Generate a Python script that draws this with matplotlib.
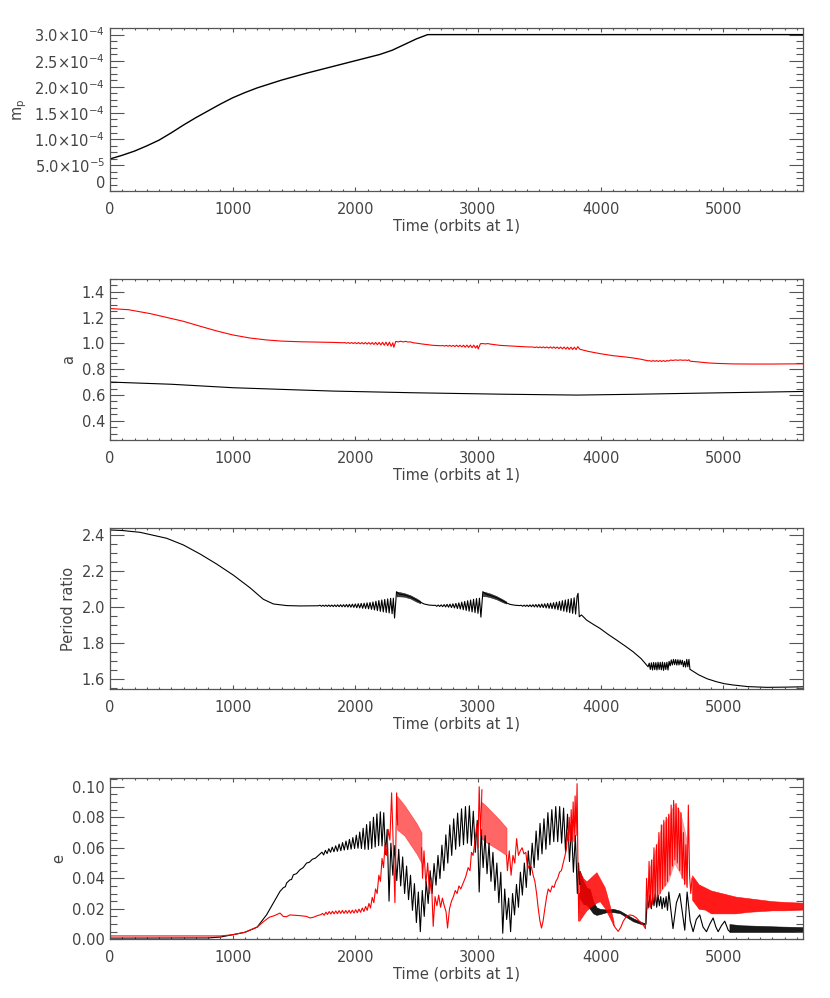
import numpy as np
import matplotlib.pyplot as plt
from matplotlib.ticker import MultipleLocator, FixedLocator, FixedFormatter

# ---------------- data ----------------
mp_t = [0, 100, 200, 300, 400, 500, 600, 700, 800, 900, 1000, 1100, 1200, 1400, 1600, 1800, 2000,
        2200, 2300, 2400, 2500, 2590, 5650]
mp_v = [6.2e-5, 6.9e-5, 7.7e-5, 8.7e-5, 9.8e-5, 1.12e-4, 1.27e-4, 1.41e-4, 1.54e-4, 1.67e-4, 1.79e-4,
        1.89e-4, 1.98e-4, 2.13e-4, 2.26e-4, 2.38e-4, 2.50e-4, 2.62e-4, 2.70e-4, 2.81e-4, 2.92e-4,
        3.0e-4, 3.0e-4]
mp_ticks = [0, 5e-5, 1e-4, 1.5e-4, 2e-4, 2.5e-4, 3e-4]
mp_labels = ['0', r'5.0$\times$10$^{-5}$', r'1.0$\times$10$^{-4}$', r'1.5$\times$10$^{-4}$',
             r'2.0$\times$10$^{-4}$', r'2.5$\times$10$^{-4}$', r'3.0$\times$10$^{-4}$']

a_in = [(0, .700), (500, .683), (1005, .656), (1500, .640), (1820, .630), (2472, .617), (3179, .606),
        (3810, .599), (4265, .605), (4810, .614), (5650, .627)]
a_out = [(0, 1.271), (150, 1.262), (326, 1.232), (450, 1.205), (598, 1.172), (730, 1.135), (870, 1.097),
         (1000, 1.066), (1141, 1.042), (1277, 1.027), (1400, 1.018), (1549, 1.013), (1700, 1.010),
         (1820, 1.008), (1900, 1.005), (1914, 1.007), (1928, 1.001), (1942, 1.007), (1956, 1.000),
         (1970, 1.007), (1984, .999), (1998, 1.007), (2012, .998), (2026, 1.007), (2040, .997),
         (2054, 1.007), (2068, .996), (2082, 1.007), (2096, .995), (2110, 1.007), (2124, .994),
         (2138, 1.007), (2152, .992), (2166, 1.008), (2180, .990), (2194, 1.008), (2208, .988),
         (2222, 1.009), (2236, .986), (2250, 1.010), (2264, .983), (2278, 1.010), (2292, .978),
         (2306, 1.005), (2314, .970), (2330, 1.016), (2350, 1.012), (2370, 1.017), (2390, 1.012),
         (2410, 1.016), (2430, 1.011), (2450, 1.012), (2472, 1.005), (2500, 1.002), (2550, .995),
         (2635, .985), (2700, .982), (2714, .984), (2728, .979), (2742, .985), (2756, .978),
         (2770, .985), (2784, .977), (2798, .985), (2812, .976), (2826, .986), (2840, .975),
         (2854, .986), (2868, .973), (2882, .986), (2896, .971), (2910, .987), (2924, .969),
         (2938, .987), (2952, .967), (2966, .987), (2980, .964), (2994, .984), (3002, .957),
         (3020, .998), (3040, .999), (3060, .996), (3080, .999), (3100, .995), (3140, .990),
         (3179, .985), (3250, .981), (3330, .977), (3400, .973), (3450, .972), (3464, .968),
         (3478, .973), (3492, .967), (3506, .973), (3520, .966), (3534, .973), (3548, .965),
         (3562, .973), (3576, .964), (3590, .973), (3604, .963), (3618, .973), (3632, .962),
         (3646, .972), (3660, .960), (3674, .972), (3688, .958), (3702, .972), (3716, .956),
         (3730, .971), (3744, .954), (3758, .971), (3772, .953), (3786, .971), (3800, .952),
         (3814, .975), (3830, .955), (3900, .938), (3994, .921), (4100, .905), (4200, .895),
         (4265, .887), (4330, .877), (4387, .865), (4400, .866), (4414, .861), (4428, .867),
         (4442, .861), (4456, .867), (4470, .860), (4484, .867), (4498, .860), (4512, .867),
         (4526, .860), (4540, .867), (4556, .863), (4570, .871), (4590, .868), (4610, .872),
         (4630, .869), (4650, .872), (4670, .869), (4690, .871), (4710, .868), (4720, .873),
         (4730, .862), (4800, .856), (4870, .849), (4945, .845), (5080, .841), (5216, .840),
         (5400, .840), (5650, .842)]

pr_line = [(0, 2.428), (100, 2.425), (245, 2.415), (462, 2.382), (598, 2.345), (734, 2.295),
           (870, 2.239), (1005, 2.178), (1141, 2.108), (1250, 2.044), (1332, 2.018), (1440, 2.009),
           (1550, 2.007), (1700, 2.008),
           (1712, 2.011), (1724, 2.005), (1736, 2.011), (1748, 2.005), (1760, 2.0115), (1772, 2.0045),
           (1784, 2.012), (1796, 2.004), (1808, 2.012), (1820, 2.0036), (1832, 2.0125), (1844, 2.0033),
           (1856, 2.013), (1868, 2.003), (1880, 2.0136), (1892, 2.0024), (1904, 2.014), (1916, 2.002),
           (1928, 2.015), (1940, 2.001), (1952, 2.016), (1964, 2.000), (1976, 2.017), (1988, 1.999),
           (2000, 2.018), (2012, 1.997), (2024, 2.0195), (2036, 1.996), (2048, 2.021), (2060, 1.994),
           (2072, 2.022), (2084, 1.993), (2096, 2.024), (2108, 1.991), (2120, 2.026), (2132, 1.988),
           (2144, 2.029), (2156, 1.985), (2168, 2.033), (2180, 1.981), (2192, 2.037), (2204, 1.977),
           (2216, 2.040), (2228, 1.974), (2240, 2.043), (2252, 1.971), (2264, 2.046), (2276, 1.968),
           (2288, 2.049), (2300, 1.964), (2310, 2.050), (2320, 1.940), (2336, 2.086),
           (2360, 2.072), (2400, 2.068), (2450, 2.057), (2500, 2.039), (2530, 2.028), (2560, 2.018),
           (2600, 2.012), (2640, 2.010),
           (2652, 2.011), (2664, 2.005), (2676, 2.012), (2688, 2.004), (2700, 2.013), (2712, 2.003),
           (2724, 2.0145), (2736, 2.0015), (2748, 2.016), (2760, 2.000), (2772, 2.017), (2784, 1.998),
           (2796, 2.019), (2808, 1.996), (2820, 2.021), (2832, 1.993), (2844, 2.024), (2856, 1.990),
           (2868, 2.028), (2880, 1.986), (2892, 2.032), (2904, 1.982), (2916, 2.036), (2928, 1.978),
           (2940, 2.040), (2952, 1.974), (2964, 2.044), (2976, 1.970), (2988, 2.048), (3000, 1.966),
           (3012, 2.050), (3024, 1.945), (3040, 2.086),
           (3070, 2.071), (3100, 2.065), (3150, 2.053), (3200, 2.036), (3230, 2.025), (3260, 2.016),
           (3300, 2.011), (3340, 2.009),
           (3352, 2.011), (3364, 2.005), (3376, 2.0115), (3388, 2.0045), (3400, 2.012), (3412, 2.0035),
           (3424, 2.013), (3436, 2.0025), (3448, 2.014), (3460, 2.0015), (3472, 2.015), (3484, 2.0005),
           (3496, 2.016), (3508, 1.999), (3520, 2.0175), (3532, 1.998), (3544, 2.019), (3556, 1.996),
           (3568, 2.021), (3580, 1.994), (3592, 2.0225), (3604, 1.992), (3616, 2.025), (3628, 1.990),
           (3640, 2.028), (3652, 1.986), (3664, 2.032), (3676, 1.982), (3688, 2.036), (3700, 1.978),
           (3712, 2.040), (3724, 1.974), (3736, 2.044), (3748, 1.970), (3760, 2.048), (3772, 1.966),
           (3784, 2.052), (3796, 1.962), (3808, 2.060), (3816, 2.077), (3826, 1.947),
           (3844, 1.957), (3885, 1.929), (3940, 1.905), (3994, 1.883), (4060, 1.850), (4130, 1.818),
           (4200, 1.785), (4265, 1.753), (4330, 1.715), (4387, 1.670),
           (4396, 1.690), (4405, 1.655), (4414, 1.692), (4423, 1.652), (4432, 1.694), (4441, 1.654),
           (4450, 1.693), (4459, 1.652), (4468, 1.695), (4477, 1.655), (4486, 1.694), (4495, 1.653),
           (4504, 1.696), (4513, 1.650), (4522, 1.693), (4531, 1.655), (4540, 1.695), (4549, 1.652),
           (4558, 1.700), (4567, 1.675), (4576, 1.708), (4585, 1.680), (4594, 1.711), (4603, 1.682),
           (4612, 1.710), (4621, 1.679), (4630, 1.709), (4639, 1.680), (4648, 1.708), (4657, 1.682),
           (4666, 1.706), (4675, 1.670), (4684, 1.700), (4693, 1.668), (4702, 1.711), (4711, 1.670),
           (4720, 1.711), (4728, 1.656),
           (4800, 1.625), (4870, 1.603), (4945, 1.587), (5010, 1.576), (5080, 1.569), (5200, 1.560),
           (5352, 1.556), (5500, 1.557), (5650, 1.559)]
# fast-oscillation stretches that render as solid bands: (t, upper, lower)
pr_bands = [[(2336, 2.086, 2.060), (2360, 2.084, 2.060), (2400, 2.078, 2.058), (2450, 2.066, 2.048),
             (2500, 2.048, 2.030), (2530, 2.035, 2.022)],
            [(3040, 2.086, 2.062), (3070, 2.082, 2.060), (3100, 2.076, 2.055), (3150, 2.062, 2.044),
             (3200, 2.044, 2.028), (3230, 2.032, 2.020)]]

e_in = [(0, .0008), (800, .0009), (900, .0015), (1000, .003), (1100, .0046), (1200, .008), (1277, .0161),
        (1332, .0238), (1386, .0314), (1413, .0338), (1430, .0345), (1440, .0369), (1467, .0390),
        (1480, .0392), (1495, .0423), (1520, .0430), (1549, .0456), (1575, .0470), (1603, .050),
        (1625, .0505), (1650, .0525), (1675, .0532), (1700, .0550),
        (1728, .0571), (1742, .0553), (1756, .0583), (1770, .0562), (1784, .0594), (1798, .0570),
        (1812, .0604), (1826, .0574), (1840, .0613), (1854, .0577), (1868, .0624), (1882, .0581),
        (1896, .0634), (1910, .0585), (1924, .0644), (1938, .0588), (1952, .0655), (1966, .0591),
        (1980, .0667), (1994, .0595), (2008, .0683), (2022, .0597), (2036, .0703), (2050, .0595),
        (2064, .0728), (2078, .0590), (2092, .0752), (2106, .0589), (2120, .0772), (2134, .0595),
        (2148, .0800), (2162, .0605), (2176, .0822), (2190, .0614), (2204, .0836), (2218, .0612),
        (2232, .0830), (2246, .0555), (2260, .0720), (2275, .0250), (2290, .0630), (2306, .042),
        (2322, .0615), (2338, .0385), (2354, .059), (2370, .035), (2386, .054), (2402, .030),
        (2418, .048), (2434, .026), (2450, .042), (2466, .019), (2482, .0365), (2498, .011),
        (2514, .031), (2530, .005), (2546, .032), (2562, .015), (2578, .038), (2594, .0235),
        (2610, .045), (2626, .030), (2642, .0497), (2658, .0355), (2674, .055), (2690, .0398),
        (2706, .0617), (2722, .045), (2738, .0685), (2754, .050), (2770, .075), (2786, .055),
        (2802, .079), (2818, .059), (2834, .0827), (2850, .061), (2866, .0855), (2882, .062),
        (2898, .087), (2914, .063), (2930, .0875), (2946, .0615), (2962, .084), (2978, .057),
        (2994, .078), (3010, .031), (3026, .072), (3042, .047), (3058, .068), (3074, .043),
        (3090, .063), (3106, .038), (3122, .057), (3138, .032), (3154, .050), (3170, .024),
        (3186, .044), (3202, .004), (3218, .033), (3234, .013), (3250, .027), (3266, .005),
        (3282, .030), (3298, .016), (3314, .036), (3330, .021), (3346, .044), (3362, .029),
        (3378, .050), (3394, .034), (3410, .058), (3426, .042), (3442, .063), (3458, .047),
        (3474, .071), (3490, .052), (3506, .076), (3522, .056), (3538, .079), (3554, .059),
        (3570, .083), (3586, .062), (3602, .085), (3618, .064), (3634, .087), (3650, .064),
        (3666, .087), (3682, .063), (3698, .086), (3714, .057), (3730, .082), (3746, .051),
        (3762, .074), (3778, .044), (3794, .068), (3810, .030), (3820, .050), (3830, .036)]
e_in_2 = [(4360, .0100), (4370, .0100), (4380, .027), (4391, .021), (4402, .029), (4413, .020),
          (4424, .028), (4435, .022), (4446, .030), (4457, .021), (4468, .029), (4479, .022),
          (4490, .028), (4501, .020), (4512, .027), (4523, .021), (4534, .028), (4545, .019),
          (4556, .031), (4590, .007), (4618, .024), (4645, .030), (4686, .006), (4705, .031),
          (4730, .012), (4754, .005), (4780, .013), (4808, .016), (4835, .008), (4863, .005),
          (4890, .010), (4917, .014), (4940, .008), (4958, .005), (4985, .009), (5012, .0119),
          (5040, .006), (5055, .005)]
e_in_bands = [[(3830, .045, .027), (3860, .038, .023), (3885, .034, .0227), (3912, .033, .020),
               (3939, .025, .017), (3966, .021, .016), (3993, .0200, .0165), (4048, .0195, .0178),
               (4102, .0200, .0178), (4156, .0188, .0172), (4211, .0162, .0145), (4265, .0138, .0118),
               (4319, .0118, .0103), (4360, .0105, .0095)],
              [(5050, .0100, .0048), (5150, .0092, .0048), (5300, .0088, .0048), (5450, .0084, .0048),
               (5650, .0080, .0048)]]

e_out = [(0, .0022), (900, .0022), (1000, .003), (1100, .0046), (1200, .008), (1250, .0115), (1300, .0145),
         (1340, .0155), (1386, .0172), (1413, .0150), (1440, .0148), (1467, .0160), (1500, .0158),
         (1550, .0155), (1603, .0150), (1630, .0140), (1660, .0145), (1690, .0155), (1720, .0162),
         (1733, .0170), (1746, .0158), (1760, .0178), (1773, .0163), (1787, .0182), (1800, .0166),
         (1814, .0184), (1827, .0167), (1841, .0186), (1854, .0168), (1868, .0188), (1881, .0170),
         (1895, .0189), (1908, .0170), (1922, .0189), (1935, .0171), (1949, .0190), (1962, .0171),
         (1976, .0191), (1989, .0172), (2003, .0194), (2016, .0174), (2030, .0198), (2043, .0177),
         (2057, .0205), (2070, .0182), (2084, .0215), (2097, .0190), (2111, .0235), (2124, .0205),
         (2138, .0275), (2151, .0240), (2165, .0330), (2178, .0300), (2192, .0420), (2205, .0380),
         (2218, .0530), (2230, .0470), (2242, .0620), (2255, .0550), (2268, .0720), (2282, .0650),
         (2296, .0960), (2310, .0600), (2323, .0240), (2337, .0960), (2345, .075)]
e_out_2 = [(2540, .060), (2548, .040), (2560, .058), (2575, .036), (2590, .050), (2605, .030), (2620, .040),
           (2635, .0085), (2650, .028), (2665, .022), (2680, .029), (2695, .021), (2710, .027),
           (2725, .022), (2740, .018), (2752, .0074), (2768, .020), (2784, .025), (2800, .028),
           (2815, .032), (2830, .030), (2845, .035), (2860, .033), (2880, .037), (2900, .041),
           (2920, .047), (2935, .045), (2947, .057), (2960, .055), (2975, .064), (2990, .075),
           (3000, .060), (3010, .100), (3022, .068), (3032, .098)]
e_out_3 = [(3233, .055), (3240, .045), (3255, .058), (3270, .042), (3285, .055), (3300, .050), (3315, .066),
           (3330, .055), (3345, .058), (3360, .060), (3375, .056), (3390, .057), (3405, .046),
           (3420, .049), (3437, .047), (3450, .042), (3464, .038), (3478, .030), (3491, .0205),
           (3505, .012), (3518, .0074), (3531, .012), (3545, .020), (3560, .028), (3573, .033),
           (3590, .031), (3605, .035), (3620, .034), (3635, .038), (3650, .040), (3665, .044),
           (3680, .045), (3695, .050), (3710, .055), (3722, .060), (3728, .070), (3736, .064),
           (3744, .080), (3752, .064), (3760, .085), (3768, .065), (3776, .090), (3784, .064),
           (3792, .094), (3800, .068), (3808, .102), (3816, .040), (3822, .012), (3828, .030)]
e_out_4 = [(4105, .010), (4116, .008), (4143, .0052), (4165, .008), (4184, .0118), (4210, .015),
           (4238, .016), (4265, .0155), (4292, .014), (4315, .012), (4333, .0107), (4350, .009),
           (4365, .007), (4375, .040), (4385, .020), (4395, .051), (4405, .021), (4415, .052),
           (4425, .023), (4435, .060), (4445, .025), (4455, .062), (4465, .028), (4475, .070),
           (4485, .030), (4495, .075), (4505, .033), (4515, .078), (4525, .035), (4535, .080),
           (4545, .038), (4555, .082), (4565, .042), (4575, .088), (4585, .048), (4595, .091),
           (4605, .052), (4615, .089), (4625, .050), (4635, .086), (4645, .045), (4655, .083),
           (4665, .040), (4675, .070), (4685, .036), (4695, .062), (4705, .034), (4715, .088),
           (4725, .042), (4735, .030), (4745, .040)]
# dense stretches of the outer planet: (t, upper, lower, opacity of the hatching)
e_out_bands = [[(2340, .094, .072), (2400, .088, .068), (2450, .082, .062), (2500, .076, .056),
                (2540, .070, .050)],
               [(3030, .090, .066), (3060, .088, .064), (3120, .083, .061), (3180, .078, .058),
                (3233, .073, .055)],
               [(3825, .045, .012), (3858, .040, .016), (3885, .038, .019), (3939, .042, .0227),
                (3966, .044, .024), (3993, .040, .025), (4034, .034, .0205), (4075, .022, .014),
                (4105, .012, .009)],
               [(4390, .045, .021), (4450, .060, .026), (4500, .075, .033), (4550, .080, .038),
                (4600, .089, .050), (4650, .083, .043), (4700, .066, .035)],
               [(4745, .042, .026), (4800, .036, .020), (4850, .034, .0195), (4900, .032, .017),
                (5000, .030, .017), (5100, .028, .017), (5200, .027, .018), (5300, .026, .0185),
                (5400, .025, .019), (5500, .0245, .019), (5650, .024, .0195)]]
e_out_alpha = [0.6, 0.6, 0.85, 0.35, 0.9]

# ---------------- plotting ----------------
plt.rcParams['font.family'] = 'DejaVu Sans'
plt.rcParams['mathtext.fontset'] = 'dejavusans'
txt = '#444444'
axcol = '#555555'
lw = 0.8

fig = plt.figure(figsize=(8.3, 9.98), dpi=100)


def line(ax, pts, c):
    t, v = zip(*pts)
    ax.plot(t, v, color=c, lw=lw)


def band(ax, rows, c, alpha=1.0):
    t, hi, lo = zip(*rows)
    ax.fill_between(t, lo, hi, color=c, lw=0.4, edgecolor=c, alpha=alpha)


def setup(ax, ylim, ymaj, ymin, fmt=None, ylab=''):
    ax.set_xlim(0, 5650)
    ax.set_ylim(*ylim)
    ax.xaxis.set_major_locator(MultipleLocator(1000))
    ax.xaxis.set_minor_locator(MultipleLocator(100))
    if isinstance(ymaj, list):
        ax.yaxis.set_major_locator(FixedLocator(ymaj))
        ax.yaxis.set_major_formatter(FixedFormatter(fmt))
    else:
        ax.yaxis.set_major_locator(MultipleLocator(ymaj))
        if fmt:
            ax.yaxis.set_major_formatter(plt.FormatStrFormatter(fmt))
    ax.yaxis.set_minor_locator(MultipleLocator(ymin))
    ax.tick_params(axis='both', which='both', direction='in', top=True, right=True,
                   color=axcol, labelcolor=txt, labelsize=10.5, width=0.8)
    ax.tick_params(axis='y', which='major', length=10)
    ax.tick_params(axis='y', which='minor', length=5)
    ax.tick_params(axis='x', which='major', length=3, pad=8)
    ax.tick_params(axis='x', which='minor', length=1.5)
    for s in ax.spines.values():
        s.set_color(axcol)
        s.set_linewidth(0.9)
    ax.set_xlabel('Time (orbits at 1)', color=txt, fontsize=10.5, labelpad=1)
    ax.set_ylabel(ylab, color=txt, fontsize=10.5)


x0, w = 0.1325, 0.835

ax1 = fig.add_axes([x0, 0.8083, w, 0.1633])
ax1.plot(mp_t, mp_v, color='k', lw=1.0)
setup(ax1, (0, 3.12e-4), mp_ticks, 1.25e-5, mp_labels, r'm$_\mathrm{p}$')

ax2 = fig.add_axes([x0, 0.5591, w, 0.1613])
line(ax2, a_in, 'k')
line(ax2, a_out, 'red')
setup(ax2, (0.25, 1.5), 0.2, 0.05, '%.1f', 'a')

ax3 = fig.add_axes([x0, 0.3093, w, 0.1613])
line(ax3, pr_line, 'k')
for b in pr_bands:
    band(ax3, b, 'k', 0.75)
setup(ax3, (1.545, 2.437), 0.2, 0.05, '%.1f', 'Period ratio')

ax4 = fig.add_axes([x0, 0.0588, w, 0.1619])
line(ax4, e_in, 'k')
line(ax4, e_in_2, 'k')
for b in e_in_bands:
    band(ax4, b, 'k', 0.9)
for seg in (e_out, e_out_2, e_out_3, e_out_4):
    line(ax4, seg, 'red')
for b, al in zip(e_out_bands, e_out_alpha):
    band(ax4, b, 'red', al)
setup(ax4, (0, 0.1059), 0.02, 0.005, '%.2f', 'e')

# bottom labels sitting on the axis edge are nudged up, as in the original
fig.canvas.draw()
for ax in (ax1, ax4):
    ax.get_yticklabels()[0].set_verticalalignment('bottom')

fig.savefig('out.png', dpi=100)
